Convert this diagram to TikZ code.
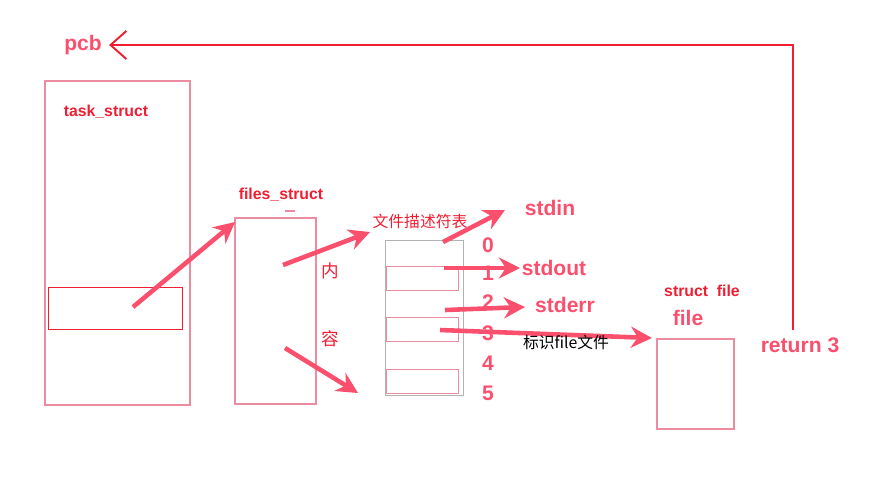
\documentclass[tikz,border=0pt]{standalone}
\usepackage{fontspec}
\setmainfont{Liberation Sans}
\newfontfamily\cjk{Noto Sans CJK SC}
\usetikzlibrary{arrows.meta}
\definecolor{rd}{RGB}{240,30,50}
\definecolor{pk}{RGB}{250,80,110}
\definecolor{bx}{RGB}{235,140,160}
\tikzset{
 box/.style={draw=bx,line width=0.9pt},
 big/.style={draw=pk,line width=2.6pt,-{Stealth[length=12pt,width=12pt]}},
 lbl/.style={text=pk,font=\bfseries\large,inner sep=0pt},
 sm/.style={text=rd,font=\bfseries\small,inner sep=0pt},
 num/.style={text=pk,font=\bfseries\large,inner sep=0pt}
}
\begin{document}
\begin{tikzpicture}[x=0.02cm,y=-0.02cm]
\useasboundingbox (0,0) rectangle (881,495);
\node[lbl] (pcb) at (83,45) {pcb};
\node[lbl] (ret) at (800,345) {return 3};
\coordinate (c1) at (793,330);
\coordinate (c2) at (793,45);
\draw[rd,line width=1.1pt,-{Straight Barb[length=9pt,width=16pt]}] (c1) -- (c2) -- ([xshift=4pt]pcb.east);
\node[box,minimum width=2.9cm,minimum height=6.48cm,anchor=north west] (task) at (44,80) {};
\node[sm] at (106,112) {task\_struct};
\node[draw=rd,line width=0.6pt,minimum width=2.68cm,minimum height=0.84cm,anchor=north west] (inner) at (48,287) {};
\node[box,minimum width=1.62cm,minimum height=3.72cm,anchor=north west] (files) at (234,217) {};
\node[sm] at (281,195) {files\_struct};
\draw[bx,line width=1pt] (285,211) -- (295,211);
\node[text=rd,font=\cjk] at (330,271) {内};
\node[text=rd,font=\cjk] at (330,339) {容};
\node[text=rd,font=\cjk\small] at (420,221) {文件描述符表};
\node[draw=gray!60,line width=0.6pt,minimum width=1.56cm,minimum height=3.1cm,anchor=north west] (tab) at (385,240) {};
\foreach \y/\n in {266/r1,317/r3,369/r5}{\node[box,line width=0.6pt,minimum width=1.44cm,minimum height=0.48cm,anchor=north west] (\n) at (386,\y) {};}
\foreach \i/\y in {0/245,1/273,2/302,3/333,4/363,5/393}{\node[num] (n\i) at (488,\y) {\i};}
\node[lbl] (stdin) at (550,208) {stdin};
\node[lbl] (stdout) at (554,268) {stdout};
\node[lbl] (stderr) at (565,305) {stderr};
\node[sm] at (702,291) {struct\ \ file};
\node[lbl] at (688,318) {file};
\node[box,minimum width=1.54cm,minimum height=1.8cm,anchor=north west] (sf) at (656,338) {};
\draw[big] (133,307) -- (235,222);
\draw[big] (283,265) -- (370,232);
\draw[big] (285,348) -- (358,393);
\draw[big] (443,242) -- (505,210);
\draw[big] (444,268) -- (520,268);
\draw[big] (445,310) -- (525,307);
\draw[big] (440,330) -- (652,338);
\node[font=\cjk\small,inner sep=0pt] at (566,342) {标识file文件};
\end{tikzpicture}
\end{document}
